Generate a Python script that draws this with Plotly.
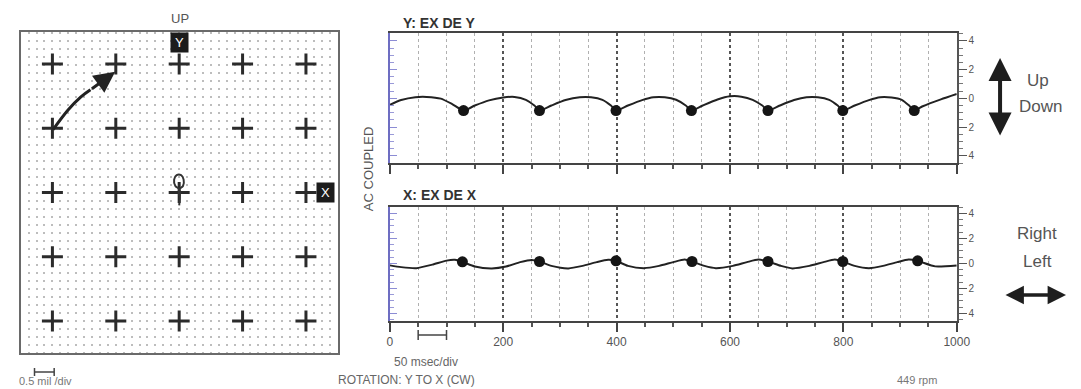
import plotly.graph_objects as go

W, H = 1081, 389
def px(x): return x / W
def py(y): return 1 - y / H

FONT = "Liberation Sans, Arial, sans-serif"

# ---------------- data ----------------
# Orbit plot (divisions)
grid_pos = [-2, -1, 0, 1, 2]
arrow_x = [-1.99, -1.75, -1.55, -1.40]
arrow_y = [0.98, 1.29, 1.49, 1.60]
arrow_tip = (-1.01, 1.88)
orbit_x = [0.0, 0.0, -0.06, -0.08, -0.04, 0.03, 0.07, 0.06, 0.0, 0.0]
orbit_y = [-0.20, 0.05, 0.10, 0.20, 0.27, 0.27, 0.20, 0.10, 0.05, -0.05]

# Y: EX DE Y waveform (time ms, mil)
y_t = [0, 20, 45, 65, 90, 110, 130,
       150, 175, 200, 220, 240, 255, 264,
       285, 310, 335, 355, 375, 390, 399,
       420, 445, 465, 485, 505, 522, 532,
       552, 578, 600, 620, 640, 657, 667,
       688, 713, 735, 755, 775, 790, 799,
       820, 845, 865, 885, 903, 916, 925,
       940, 972, 1000]
y_v = [-0.45, -0.12, 0.08, 0.10, -0.02, -0.40, -0.85,
       -0.50, -0.14, 0.06, 0.10, -0.10, -0.50, -0.85,
       -0.50, -0.12, 0.08, 0.08, -0.10, -0.50, -0.85,
       -0.50, -0.12, 0.08, 0.08, -0.10, -0.50, -0.85,
       -0.50, -0.08, 0.14, 0.12, -0.10, -0.50, -0.85,
       -0.50, -0.12, 0.08, 0.08, -0.10, -0.50, -0.85,
       -0.50, -0.12, 0.08, 0.06, -0.10, -0.50, -0.85,
       -0.55, -0.07, 0.30]
y_kp_t = [130, 264, 399, 532, 667, 799, 925]
y_kp_v = [-0.85, -0.85, -0.85, -0.85, -0.85, -0.85, -0.85]

# X: EX DE X waveform
x_t = [0, 20, 47, 75, 100, 115, 128,
       150, 180, 205, 230, 250, 264,
       285, 315, 340, 365, 385, 399,
       420, 448, 475, 500, 520, 533,
       555, 575, 605, 630, 650, 667,
       690, 710, 740, 765, 785, 799,
       820, 845, 870, 895, 915, 931,
       962, 1000]
x_v = [-0.16, -0.30, -0.38, -0.10, 0.22, 0.28, 0.12,
       -0.25, -0.40, -0.25, 0.10, 0.27, 0.15,
       -0.20, -0.40, -0.20, 0.10, 0.28, 0.20,
       -0.20, -0.38, -0.20, 0.10, 0.30, 0.15,
       -0.20, -0.38, -0.20, 0.10, 0.30, 0.15,
       -0.20, -0.40, -0.20, 0.10, 0.30, 0.15,
       -0.20, -0.38, -0.20, 0.10, 0.30, 0.20,
       -0.24, -0.16]
x_kp_t = [128, 264, 399, 533, 667, 799, 931]
x_kp_v = [0.12, 0.15, 0.20, 0.15, 0.15, 0.15, 0.20]

time_ticks = [0, 200, 400, 600, 800, 1000]
amp_ticks = [-4, -2, 0, 2, 4]
amp_labels = ["4", "2", "0", "2", "4"]

# ---------------- figure ----------------
fig = go.Figure()

cx = [gx for gy in grid_pos for gx in grid_pos]
cy = [gy for gy in grid_pos for gx in grid_pos]
fig.add_trace(go.Scatter(x=cx, y=cy, mode="markers", xaxis="x", yaxis="y",
                         marker=dict(symbol="cross-thin", size=15,
                                     line=dict(width=3, color="#2b2b2b")),
                         hoverinfo="skip"))
fig.add_trace(go.Scatter(x=arrow_x, y=arrow_y, mode="lines", xaxis="x", yaxis="y",
                         line=dict(color="#222", width=3, shape="spline"), hoverinfo="skip"))
fig.add_trace(go.Scatter(x=orbit_x, y=orbit_y, mode="lines", xaxis="x", yaxis="y",
                         line=dict(color="#333", width=2, shape="spline"), hoverinfo="skip"))

# waveforms
fig.add_trace(go.Scatter(x=y_t, y=y_v, mode="lines", xaxis="x2", yaxis="y2",
                         line=dict(color="#222", width=2, shape="spline", smoothing=0.6),
                         hoverinfo="skip"))
fig.add_trace(go.Scatter(x=y_kp_t, y=y_kp_v, mode="markers", xaxis="x2", yaxis="y2",
                         marker=dict(color="#151515", size=11), hoverinfo="skip"))
fig.add_trace(go.Scatter(x=x_t, y=x_v, mode="lines", xaxis="x3", yaxis="y3",
                         line=dict(color="#222", width=2, shape="spline", smoothing=0.6),
                         hoverinfo="skip"))
fig.add_trace(go.Scatter(x=x_kp_t, y=x_kp_v, mode="markers", xaxis="x3", yaxis="y3",
                         marker=dict(color="#151515", size=11), hoverinfo="skip"))
# invisible traces for right-hand label axes
fig.add_trace(go.Scatter(x=[None], y=[None], xaxis="x2", yaxis="y4", showlegend=False))
fig.add_trace(go.Scatter(x=[None], y=[None], xaxis="x3", yaxis="y5", showlegend=False))

orbit_ax = dict(range=[-2.5, 2.5], showticklabels=False, ticks="", zeroline=False,
                showline=True, mirror=True, linecolor="#6a6a6a", linewidth=1.5,
                fixedrange=True)

def time_axis(dom_anchor, labels):
    return dict(domain=[px(393), px(969)], anchor=dom_anchor, range=[0, 1000],
                tickmode="array", tickvals=time_ticks, showticklabels=labels,
                ticks="outside", ticklen=9, tickwidth=2, tickcolor="#444",
                showline=True, mirror=True, linecolor="#444", linewidth=1.5,
                showgrid=True, gridcolor="#555", griddash="dot", gridwidth=1.5,
                zeroline=False,
                tickfont=dict(size=12, color="#555", family=FONT),
                minor=dict(dtick=50, tick0=0, ticks="outside", ticklen=4, tickwidth=1.5,
                           tickcolor="#555", showgrid=True, gridcolor="#b0b0b0", gridwidth=1))

def left_amp_axis(dom, rng, anchor):
    return dict(domain=dom, range=rng, anchor=anchor, side="left",
                showline=True, linecolor="#6d6dc2", linewidth=2,
                tickmode="array", tickvals=amp_ticks, ticks="inside", ticklen=7,
                tickcolor="#8c8cd4", showticklabels=False, showgrid=False, zeroline=False,
                minor=dict(dtick=0.5, tick0=0, ticks="inside", ticklen=4, tickcolor="#9a9ad8"))

def right_amp_axis(overlay, rng, anchor):
    return dict(overlaying=overlay, anchor=anchor, side="right", range=rng,
                tickmode="array", tickvals=amp_ticks, ticktext=amp_labels,
                ticks="outside", ticklen=8, tickcolor="#555",
                showline=True, linecolor="#555", linewidth=1.5,
                showgrid=False, zeroline=False,
                tickfont=dict(size=10, color="#555", family=FONT),
                minor=dict(dtick=0.5, tick0=0, ticks="outside", ticklen=4, tickcolor="#777"))

top_rng = [-4.5, 4.55]
bot_rng = [-4.6, 4.5]

fig.update_layout(
    width=W, height=H, margin=dict(l=0, r=0, t=0, b=0),
    paper_bgcolor="white", plot_bgcolor="white", showlegend=False,
    font=dict(family=FONT, color="#444"),
    xaxis=dict(domain=[px(18), px(340)], anchor="y", showgrid=True, dtick=0.125, tick0=0,
               gridcolor="#bdbdbd", griddash="2px,6px", gridwidth=1.5, **orbit_ax),
    yaxis=dict(domain=[py(353), py(32)], anchor="x", showgrid=False, **orbit_ax),
    xaxis2=time_axis("y2", False),
    xaxis3=time_axis("y3", True),
    yaxis2=left_amp_axis([py(163), py(33)], top_rng, "x2"),
    yaxis3=left_amp_axis([py(321), py(207)], bot_rng, "x3"),
    yaxis4=right_amp_axis("y2", top_rng, "x2"),
    yaxis5=right_amp_axis("y3", bot_rng, "x3"),
)

ann = []
def text(x, y, s, size=13, color="#555", xanchor="center", bold=False, angle=0):
    ann.append(dict(x=px(x), y=py(y), xref="paper", yref="paper", text=("<b>%s</b>" % s) if bold else s,
                    showarrow=False, xanchor=xanchor, yanchor="middle", textangle=angle,
                    font=dict(size=size, color=color, family=FONT)))

text(180, 18, "UP", 13)
text(404, 23, "Y: EX DE Y", 14, "#333", "left", True)
text(404, 195, "X: EX DE X", 14, "#333", "left", True)
text(372, 169, "AC COUPLED", 13, "#555", angle=-90)
text(395, 362, "50 msec/div", 12, "#666", "left")
text(14, 381, "0.5 mil /div", 11, "#777", "left")
text(410, 380, "ROTATION: Y TO X (CW)", 12, "#666")
text(929, 380, "449 rpm", 11, "#777")
text(1052, 80, "Up", 17, "#555")
text(1054, 106, "Down", 17, "#555")
text(1051, 233, "Right", 17, "#555")
text(1051, 261, "Left", 17, "#555")

# axis boxes in the orbit
for lab, (bx, by) in {"Y": (0, 2.34), "X": (2.31, 0)}.items():
    ann.append(dict(x=bx, y=by, xref="x", yref="y", text=lab, showarrow=False,
                    bgcolor="#1b1b1b", width=15, height=17,
                    font=dict(size=13, color="white", family=FONT)))

# orbit arrow head
ann.append(dict(x=arrow_tip[0], y=arrow_tip[1], xref="x", yref="y",
                ax=arrow_x[-1], ay=arrow_y[-1], axref="x", ayref="y", text="",
                showarrow=True, arrowhead=2, arrowsize=1.4, arrowwidth=3, arrowcolor="#222"))
# Up/Down arrow
ann.append(dict(x=px(1013), y=py(58), xref="paper", yref="paper", ax=0, ay=79, text="",
                showarrow=True, arrowhead=2, startarrowhead=2, arrowside="end+start",
                arrowsize=1.15, startarrowsize=1.15, arrowwidth=4, arrowcolor="#1e1e1e"))
# Right/Left arrow
ann.append(dict(x=px(1080), y=py(295), xref="paper", yref="paper", ax=-62, ay=0, text="",
                showarrow=True, arrowhead=2, startarrowhead=2, arrowside="end+start",
                arrowsize=1.05, startarrowsize=1.05, arrowwidth=3.5, arrowcolor="#1e1e1e"))
fig.update_layout(annotations=ann)

# scale bars
shapes = []
def hbar(x0, x1, y, xref, h):
    shapes.append(dict(type="line", xref=xref, yref="paper", x0=x0, x1=x1, y0=py(y), y1=py(y),
                       line=dict(color="#444", width=1.5)))
    for xx in (x0, x1):
        shapes.append(dict(type="line", xref=xref, yref="paper", x0=xx, x1=xx,
                           y0=py(y - h), y1=py(y + h), line=dict(color="#444", width=1.5)))
hbar(50, 100, 335, "x3", 5)
hbar(px(32), px(52), 372, "paper", 4)
fig.update_layout(shapes=shapes)

fig.write_html("out.html")
